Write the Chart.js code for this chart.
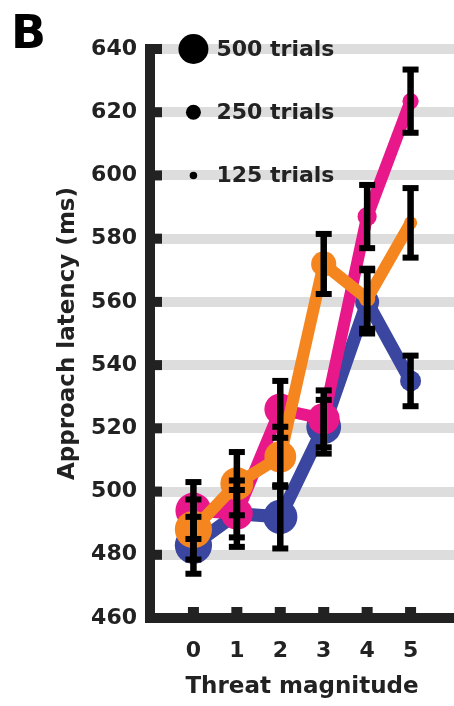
<!DOCTYPE html>
<html>
<head>
<meta charset="utf-8">
<script src="https://cdn.jsdelivr.net/npm/chart.js@4.4.1/dist/chart.umd.min.js"></script>
<style>
  html, body { margin: 0; padding: 0; background: #ffffff; }
  #wrap { width: 454px; height: 706px; position: relative; }
</style>
</head>
<body>
<div id="wrap"><canvas id="chart" width="454" height="706"></canvas></div>
<script>
// Threat magnitude levels (x axis categories)
const threatLevels = [0, 1, 2, 3, 4, 5];
// Y tick labels (ms)
const latencyTicks = [460, 480, 500, 520, 540, 560, 580, 600, 620, 640];

// Mean approach latency (ms), error (ms) and trial counts per threat level
const magentaMean   = [494, 493, 526, 523, 587, 623.5];
const magentaErr    = [9, 7.5, 9, 9, 10, 10];
const magentaTrials = [600, 530, 530, 530, 320, 270];

const orangeMean    = [488, 502.5, 511, 572, 561, 585];
const orangeErr     = [9.5, 10, 9.5, 9.5, 9.5, 11];
const orangeTrials  = [620, 550, 530, 420, 270, 220];

const blueMean      = [483, 493, 492, 520.5, 560, 535];
const blueErr       = [9, 10.5, 10, 8.5, 10, 8];
const blueTrials    = [620, 470, 570, 580, 400, 350];

// Marker size key
const legendTrials = [500, 250, 125];

const FONT = "'DejaVu Sans', sans-serif";
const INK = '#222222';
const RADIUS_PER_TRIAL = 0.03;

function points(means) {
  return threatLevels.map((t, i) => ({ x: t, y: means[i] }));
}

function series(means, errs, trials, colour, width) {
  return {
    data: points(means),
    errors: errs,
    borderColor: colour,
    backgroundColor: colour,
    borderWidth: width,
    pointRadius: ctx => trials[ctx.dataIndex] * RADIUS_PER_TRIAL,
    pointHoverRadius: ctx => trials[ctx.dataIndex] * RADIUS_PER_TRIAL,
    pointBorderWidth: 0,
    tension: 0,
    clip: false
  };
}

// Axis lines and inward tick marks
const axesPlugin = {
  id: 'axes',
  beforeDatasetsDraw(chart) {
    const { ctx, chartArea, scales: { x, y } } = chart;
    const yTop = y.getPixelForValue(latencyTicks[latencyTicks.length - 1]);
    const yBot = y.getPixelForValue(latencyTicks[0]);
    const xLeft = chartArea.left;
    ctx.save();
    ctx.fillStyle = INK;
    ctx.fillRect(xLeft - 5, yTop - 5, 10, yBot - yTop + 10);
    ctx.fillRect(xLeft - 5, yBot - 5, chartArea.right - xLeft + 10, 10);
    latencyTicks.forEach(v => {
      const py = y.getPixelForValue(v);
      ctx.fillRect(xLeft + 5, py - 5, 7, 10);
    });
    threatLevels.forEach(t => {
      const px = x.getPixelForValue(t);
      ctx.fillRect(px - 5.5, yBot - 11, 11, 6);
    });
    ctx.restore();
  }
};

// Black error bars with caps over every point
const errorBarPlugin = {
  id: 'errorBars',
  afterDatasetsDraw(chart) {
    const { ctx, scales: { x, y } } = chart;
    ctx.save();
    ctx.fillStyle = '#000000';
    chart.data.datasets.forEach(ds => {
      ds.data.forEach((p, i) => {
        const e = ds.errors[i];
        const px = x.getPixelForValue(p.x);
        const top = y.getPixelForValue(p.y + e);
        const bot = y.getPixelForValue(p.y - e);
        ctx.fillRect(px - 3.25, top, 6.5, bot - top);
        ctx.fillRect(px - 8, top - 3, 16, 6);
        ctx.fillRect(px - 8, bot - 3, 16, 6);
      });
    });
    ctx.restore();
  }
};

// Marker size key and panel letter
const keyPlugin = {
  id: 'sizeKey',
  afterDraw(chart) {
    const { ctx, scales: { x, y } } = chart;
    const step = latencyTicks[1] - latencyTicks[0];
    const top = latencyTicks[latencyTicks.length - 1];
    const cx = x.getPixelForValue(threatLevels[0]);
    ctx.save();
    legendTrials.forEach((n, i) => {
      const cy = y.getPixelForValue(top - i * step);
      ctx.fillStyle = '#000000';
      ctx.beginPath();
      ctx.arc(cx, cy, n * RADIUS_PER_TRIAL, 0, Math.PI * 2);
      ctx.fill();
      ctx.fillStyle = INK;
      ctx.font = `bold 22px ${FONT}`;
      ctx.textAlign = 'left';
      ctx.textBaseline = 'middle';
      ctx.fillText(`${n} trials`, cx + 23, cy + 1);
    });
    ctx.fillStyle = '#000000';
    ctx.font = `bold 46px ${FONT}`;
    ctx.textAlign = 'left';
    ctx.textBaseline = 'alphabetic';
    ctx.fillText('B', 11, 48);
    ctx.restore();
  }
};

new Chart(document.getElementById('chart'), {
  type: 'line',
  data: {
    datasets: [
      series(orangeMean, orangeErr, orangeTrials, '#f5861f', 12),
      series(magentaMean, magentaErr, magentaTrials, '#e8178a', 12),
      series(blueMean, blueErr, blueTrials, '#3a46a0', 13)
    ]
  },
  options: {
    responsive: false,
    devicePixelRatio: 1,
    animation: false,
    events: [],
    layout: { autoPadding: false, padding: { top: 49, right: 0, left: 0, bottom: 0 } },
    plugins: { legend: { display: false }, tooltip: { enabled: false } },
    scales: {
      x: {
        type: 'linear',
        min: -1,
        max: 6,
        afterFit: s => { s.height = 88; s.paddingLeft = 0; s.paddingRight = 0; },
        afterBuildTicks: s => { s.ticks = [-1, ...threatLevels, 6].map(v => ({ value: v })); },
        ticks: {
          autoSkip: false,
          maxRotation: 0,
          padding: 12,
          color: INK,
          font: { family: FONT, size: 22, weight: 'bold' },
          callback: v => threatLevels.includes(v) ? String(v) : ''
        },
        grid: { display: false },
        border: { display: false },
        title: {
          display: true,
          text: 'Threat magnitude',
          color: INK,
          font: { family: FONT, size: 23, weight: 'bold' },
          padding: { top: 0, bottom: 5 }
        }
      },
      y: {
        type: 'linear',
        min: latencyTicks[0],
        max: latencyTicks[latencyTicks.length - 1],
        afterFit: s => { s.width = 150; },
        afterBuildTicks: s => { s.ticks = latencyTicks.map(v => ({ value: v })); },
        ticks: {
          padding: 13,
          color: INK,
          font: { family: FONT, size: 22, weight: 'bold' },
          callback: v => String(v)
        },
        grid: { color: '#dddddd', lineWidth: 10, drawTicks: false },
        border: { display: false },
        title: {
          display: true,
          text: 'Approach latency (ms)',
          color: INK,
          font: { family: FONT, size: 23, weight: 'bold' },
          padding: { top: 54, bottom: 0 }
        }
      }
    }
  },
  plugins: [axesPlugin, errorBarPlugin, keyPlugin]
});
</script>
</body>
</html>
